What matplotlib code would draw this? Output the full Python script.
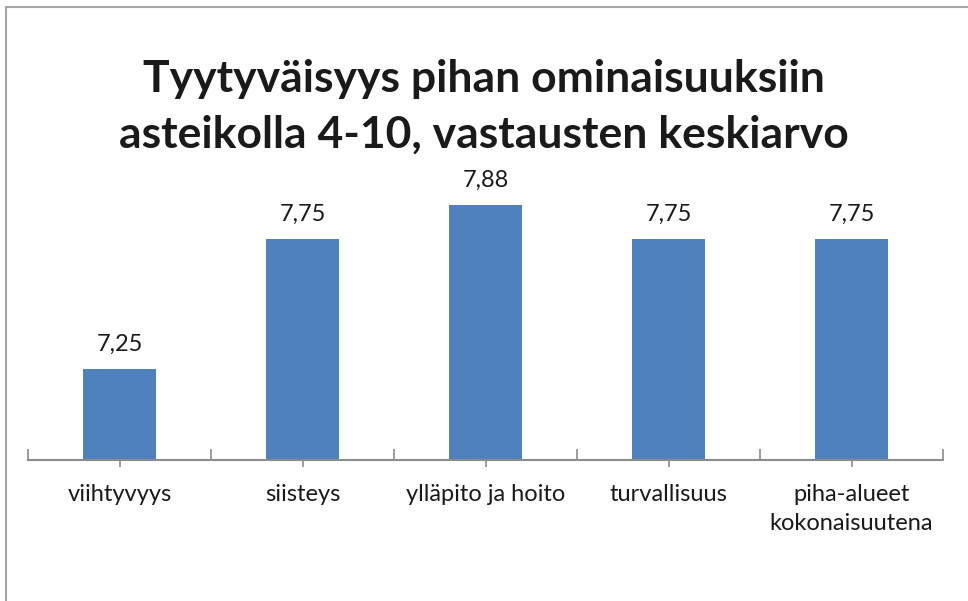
import matplotlib
matplotlib.use("Agg")
import matplotlib.pyplot as plt
from matplotlib.patches import Rectangle

categories = ["viihtyvyys", "siisteys", "ylläpito ja hoito", "turvallisuus", "piha-alueet\nkokonaisuutena"]
values = [7.25, 7.75, 7.88, 7.75, 7.75]
labels = ["7,25", "7,75", "7,88", "7,75", "7,75"]
title = "Tyytyväisyys pihan ominaisuuksiin\nasteikolla 4-10, vastausten keskiarvo"

FONT = "Lato"
W, H = 968, 601
fig = plt.figure(figsize=(W/100, H/100), dpi=100)
fig.patch.set_facecolor("white")
fig.patches.append(Rectangle((6/W, -0.1), 1.2, 1.1 - 7/H, transform=fig.transFigure,
                             fill=False, edgecolor="#a6a6a6", linewidth=1.5))

ax = fig.add_axes([28/W, 1 - 460/H, (943-28)/W, (460-174)/H])
x = list(range(len(categories)))
ax.bar(x, values, width=0.4, color="#4f81bd", bottom=0)
ax.set_ylim(6.9, 8.0)
ax.set_xlim(-0.5, len(categories) - 0.5)
for xi, v, l in zip(x, values, labels):
    ax.text(xi, v + 0.055, l, ha="center", va="bottom", fontsize=17, family=FONT, color="#1a1a1a")

for s in ["top", "right", "left"]:
    ax.spines[s].set_visible(False)
ax.spines["bottom"].set_color("#8c8c8c")
ax.spines["bottom"].set_linewidth(1.5)
ax.set_yticks([])
ax.set_xticks(x)
ax.set_xticklabels(categories, fontsize=17, family=FONT, color="#1a1a1a", linespacing=1.5, va="top")
ax.tick_params(axis="x", length=5, width=1.2, color="#8c8c8c", pad=12)
ax.set_xticks([i - 0.5 for i in range(len(categories) + 1)], minor=True)
ax.tick_params(axis="x", which="minor", direction="in", length=8, width=1.2, color="#8c8c8c")

fig.text(484/W, 1 - 107/H, title, ha="center", va="center", fontsize=32, fontweight="bold",
         family=FONT, color="#1a1a1a", linespacing=1.48)

fig.savefig("out.png", dpi=100)
